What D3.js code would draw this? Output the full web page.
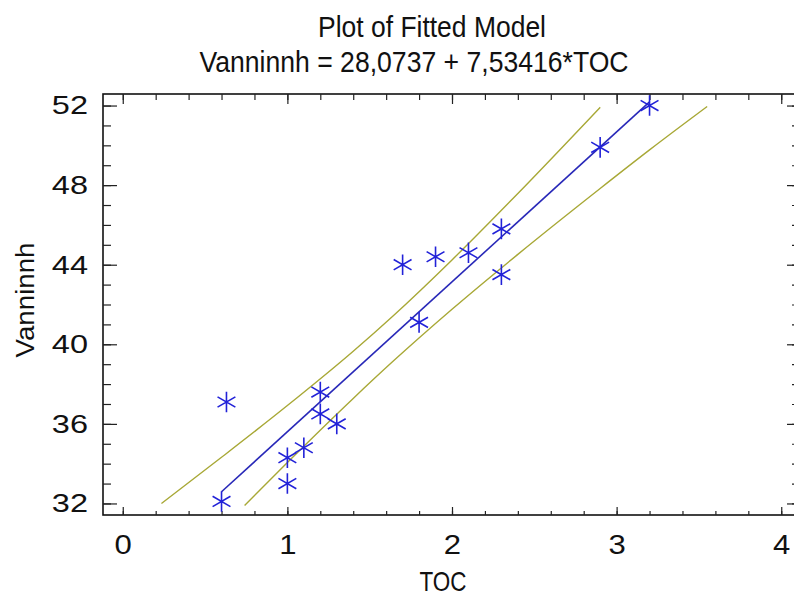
<!DOCTYPE html>
<html>
<head>
<meta charset="utf-8">
<script src="https://cdn.jsdelivr.net/npm/d3@7/dist/d3.min.js"></script>
<style>
body { margin: 0; background: #fff; }
text { font-family: "Liberation Sans", Arial, sans-serif; fill: #111; }
</style>
</head>
<body>
<svg id="chart" width="794" height="597"></svg>
<script>
// Data
var tocValues = [0.6, 0.63, 1.0, 1.0, 1.1, 1.2, 1.2, 1.3, 1.7, 1.8, 1.9, 2.1, 2.3, 2.3, 2.9, 3.2]
var vanninnhValues = [32.1, 37.1, 34.3, 33.0, 34.8, 37.6, 36.5, 36.0, 44.0, 41.1, 44.4, 44.6, 45.8, 43.5, 49.9, 52.0]
var fitX = [0.6, 3.2]
var fitY = [32.59, 52.18]
var upperX = [0.235, 0.6, 1.0, 1.4, 1.64, 2.0, 2.4, 2.9]
var upperY = [32.0, 34.32, 36.92, 39.65, 41.41, 44.24, 47.58, 51.91]
var lowerX = [0.74, 1.0, 1.4, 1.64, 2.0, 2.4, 2.9, 3.2, 3.55]
var lowerY = [31.9, 34.06, 37.28, 39.13, 41.76, 44.52, 47.83, 49.77, 51.95]
var xTicks = [0, 1, 2, 3, 4]
var yTicks = [32, 36, 40, 44, 48, 52]
var titleLines = ["Plot of Fitted Model", "Vanninnh = 28,0737 + 7,53416*TOC"]

var svg = d3.select("#chart")
// plot frame (window.top is read-only, so no "top" here)
var pLeft = 103, pRight = 801, pTop = 94, pBottom = 515

var x = d3.scaleLinear().domain([-0.12, 4.12]).range([pLeft, pRight])
var y = d3.scaleLinear().domain([31.42, 52.58]).range([pBottom, pTop])

var xMinor = d3.range(0, 4.01, 0.2).map(d => +d.toFixed(1))
var yMinor = d3.range(32, 52.5, 1)

svg.append("rect")
    .attr("x", pLeft).attr("y", pTop)
    .attr("width", pRight - pLeft).attr("height", pBottom - pTop)
    .attr("fill", "#fff").attr("stroke", "#111").attr("stroke-width", 1.6)

// unlabelled ticks (inward, all four sides)
function tickOnly(axis, pos) {
    svg.append("g").attr("transform", pos).call(axis)
        .call(g => g.selectAll("text").remove())
        .call(g => g.select(".domain").remove())
        .selectAll("line").attr("stroke", "#222").attr("stroke-width", 1.2)
}
tickOnly(d3.axisBottom(x).tickValues(xMinor).tickSize(-4), "translate(0," + pBottom + ")")
tickOnly(d3.axisTop(x).tickValues(xMinor).tickSize(-6), "translate(0," + pTop + ")")
tickOnly(d3.axisLeft(y).tickValues(yMinor).tickSize(-8), "translate(" + pLeft + ",0)")
tickOnly(d3.axisRight(y).tickValues(yMinor).tickSize(-9), "translate(" + pRight + ",0)")
tickOnly(d3.axisTop(x).tickValues(xTicks).tickSize(-10), "translate(0," + pTop + ")")
tickOnly(d3.axisRight(y).tickValues(yTicks).tickSize(-14), "translate(" + pRight + ",0)")

// labelled axes
var xAxis = svg.append("g").attr("transform", "translate(0," + pBottom + ")")
    .call(d3.axisBottom(x).tickValues(xTicks).tickSize(-8).tickPadding(14).tickFormat(d3.format("d")))
var yAxis = svg.append("g").attr("transform", "translate(" + pLeft + ",0)")
    .call(d3.axisLeft(y).tickValues(yTicks).tickSize(-14).tickPadding(15).tickFormat(d3.format("d")))
xAxis.select(".domain").remove()
yAxis.select(".domain").remove()
xAxis.selectAll("line").attr("stroke", "#222").attr("stroke-width", 1.2)
yAxis.selectAll("line").attr("stroke", "#222").attr("stroke-width", 1.2)
xAxis.selectAll("text").attr("font-size", 27).attr("fill", "#111").attr("dy", "0.71em").attr("y", 20)
yAxis.selectAll("text").attr("font-size", 26).attr("fill", "#111").attr("x", -15)
// tick labels in the picture are drawn a bit wider than normal
xAxis.selectAll("text").each(function() { stretch(this, 1.15) })
yAxis.selectAll("text").each(function() { stretch(this, 1.25) })

function stretch(node, k) {
    var w = node.getComputedTextLength()
    d3.select(node).attr("textLength", w * k).attr("lengthAdjust", "spacingAndGlyphs")
}

// limit lines and fitted line
var line = d3.line().x(d => x(d[0])).y(d => y(d[1])).curve(d3.curveMonotoneX)
var bandColor = "#a8a836", fitColor = "#2828b8", starColor = "#2222d8"

svg.append("path").datum(d3.zip(upperX, upperY)).attr("d", line)
    .attr("fill", "none").attr("stroke", bandColor).attr("stroke-width", 1.4)
svg.append("path").datum(d3.zip(lowerX, lowerY)).attr("d", line)
    .attr("fill", "none").attr("stroke", bandColor).attr("stroke-width", 1.4)
svg.append("path").datum(d3.zip(fitX, fitY)).attr("d", line)
    .attr("fill", "none").attr("stroke", fitColor).attr("stroke-width", 1.6)

// asterisks
var star = d3.symbol().type(d3.symbolAsterisk).size(300)
svg.append("g").selectAll("path")
    .data(d3.zip(tocValues, vanninnhValues))
    .enter().append("path")
    .attr("transform", d => "translate(" + x(d[0]) + "," + y(d[1]) + ")")
    .attr("d", star)
    .attr("fill", "none").attr("stroke", starColor).attr("stroke-width", 1.6)

// titles
svg.append("text").attr("x", 432).attr("y", 37).attr("text-anchor", "middle")
    .attr("font-size", 30).attr("textLength", 228).attr("lengthAdjust", "spacingAndGlyphs")
    .text(titleLines[0])
svg.append("text").attr("x", 414).attr("y", 72).attr("text-anchor", "middle")
    .attr("font-size", 30).attr("textLength", 429).attr("lengthAdjust", "spacingAndGlyphs")
    .text(titleLines[1])

// axis titles
svg.append("text").attr("x", 443).attr("y", 591).attr("text-anchor", "middle")
    .attr("font-size", 28).attr("textLength", 47).attr("lengthAdjust", "spacingAndGlyphs")
    .text("TOC")
svg.append("text").attr("transform", "translate(34,300) rotate(-90)").attr("text-anchor", "middle")
    .attr("font-size", 26).attr("textLength", 115).attr("lengthAdjust", "spacingAndGlyphs")
    .text("Vanninnh")
</script>
</body>
</html>
